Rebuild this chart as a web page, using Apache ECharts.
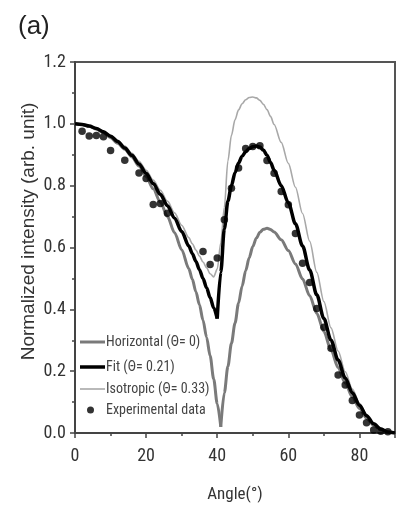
<!DOCTYPE html>
<html>
<head>
<meta charset="utf-8">
<script src="https://cdn.jsdelivr.net/npm/echarts@6/dist/echarts.min.js"></script>
<style>
html,body{margin:0;padding:0;background:#fff;}
#chart{width:402px;height:509px;}
</style>
</head>
<body>
<div id="chart"></div>
<script>
// ---- data ----
const curveAngles = [0,2,4,6,8,10,12,14,16,18,20,22,24,26,28,30,32,33,34,35,36,37,38,39,40,41,42,43,44,45,46,47,48,49,50,51,52,53,54,55,56,58,60,62,64,66,68,70,72,74,76,78,80,82,84,86,88,90];
const horizontal = [1.0,0.998,0.992,0.983,0.971,0.955,0.937,0.918,0.893,0.864,0.83,0.79,0.747,0.70,0.648,0.593,0.532,0.497,0.457,0.415,0.365,0.31,0.25,0.175,0.095,0.02,0.13,0.215,0.29,0.355,0.42,0.475,0.525,0.567,0.603,0.63,0.649,0.659,0.662,0.658,0.65,0.625,0.59,0.547,0.498,0.444,0.387,0.328,0.268,0.212,0.162,0.117,0.079,0.048,0.025,0.01,0.002,0];
const fit = [1.0,0.998,0.993,0.985,0.974,0.96,0.943,0.922,0.898,0.87,0.84,0.807,0.772,0.735,0.695,0.652,0.605,0.58,0.555,0.528,0.50,0.47,0.438,0.405,0.37,0.52,0.66,0.75,0.80,0.842,0.873,0.895,0.91,0.92,0.926,0.928,0.925,0.915,0.898,0.875,0.85,0.80,0.745,0.677,0.605,0.527,0.447,0.37,0.30,0.236,0.178,0.13,0.09,0.056,0.03,0.013,0.003,0];
const isotropic = [1.0,0.998,0.994,0.986,0.976,0.963,0.947,0.928,0.905,0.879,0.85,0.818,0.785,0.75,0.712,0.672,0.632,0.612,0.592,0.572,0.553,0.535,0.515,0.505,0.53,0.615,0.73,0.88,0.963,1.013,1.045,1.065,1.078,1.085,1.087,1.084,1.076,1.063,1.046,1.024,0.998,0.94,0.872,0.795,0.71,0.62,0.52,0.425,0.34,0.265,0.198,0.142,0.096,0.059,0.03,0.012,0.003,0];
const expAngles = [2,4,6,8,10,14,18,20,22,24,26,36,38,40,42,44,46,48,50,52,54,56,58,60,62,64,66,68,70,72,74,76,78,80,82,84,86,88];
const expValues = [0.976,0.961,0.962,0.958,0.914,0.882,0.841,0.823,0.739,0.742,0.711,0.587,0.545,0.566,0.69,0.792,0.857,0.92,0.927,0.929,0.881,0.84,0.781,0.738,0.645,0.549,0.487,0.403,0.342,0.274,0.188,0.155,0.105,0.058,0.033,0.01,0.006,0.004];
const seriesNames = ['Horizontal (\u0398= 0)','Fit (\u0398= 0.21)','Isotropic (\u0398= 0.33)','Experimental data'];
const cuspAngles = [41, 40];   // sharp minima of the horizontal and fit curves
const xTicks = [0,20,40,60,80];
const yTicks = [0.0,0.2,0.4,0.6,0.8,1.0,1.2];

function pairs(xs, ys){ return xs.map((x,i)=>[x, ys[i]]); }
function splitAt(xs, ys, cx){
  const k = xs.indexOf(cx);
  const p = pairs(xs, ys);
  return [p.slice(0, k+1), p.slice(k)];
}

const COND = "'Roboto Condensed','DejaVu Sans Condensed','Liberation Sans Narrow','Liberation Sans',Arial,sans-serif";
const AXFONT = "'Liberation Sans',Arial,sans-serif";

const lineColors = ['#7a7a7a','#000000','#a8a8a8'];
const lineWidths = [3,3.5,1.6];
const legendTops = [335,360,382];

function lineLegend(i){
  return {orient:'vertical', left:80, top:legendTops[i], padding:0, icon:'rect',
    itemWidth:25, itemHeight:lineWidths[i], data:[seriesNames[i]],
    textStyle:{fontSize:14, color:'#444', fontFamily:COND, padding:[0,0,0,-4]}};
}
function lineSeries(i, data, z){
  return {name:seriesNames[i], type:'line', data:data, symbol:'none', z:z,
    smooth:0.3, smoothMonotone:'x',
    lineStyle:{color:lineColors[i], width:lineWidths[i]}, itemStyle:{color:lineColors[i]}};
}

const hParts = splitAt(curveAngles, horizontal, cuspAngles[0]);
const fParts = splitAt(curveAngles, fit, cuspAngles[1]);

const chart = echarts.init(document.getElementById('chart'), null, {renderer:'canvas'});
chart.setOption({
  backgroundColor:'#fff',
  animation:false,
  title:{text:'(a)', left:13, top:9, textStyle:{fontSize:26, fontWeight:'normal', color:'#222', fontFamily:AXFONT}},
  grid:{left:75, right:7, top:62, bottom:76, show:true, borderColor:'#555', borderWidth:2, containLabel:false},
  xAxis:{
    type:'value', min:xTicks[0], max:90, interval:xTicks[1]-xTicks[0],
    axisLine:{lineStyle:{color:'#444', width:2}},
    axisTick:{show:true, length:5, lineStyle:{color:'#444', width:1.5}},
    minorTick:{show:true, splitNumber:2, length:3, lineStyle:{color:'#444', width:1.5}},
    axisLabel:{fontSize:18, color:'#333', margin:14, fontFamily:COND, showMaxLabel:false},
    splitLine:{show:false},
    name:'Angle(\u00B0)', nameLocation:'middle', nameGap:53, nameMoveOverlap:false,
    nameTextStyle:{fontSize:17, color:'#333', fontFamily:COND}
  },
  yAxis:{
    type:'value', min:yTicks[0], max:yTicks[yTicks.length-1], interval:yTicks[1]-yTicks[0],
    axisLine:{show:true, lineStyle:{color:'#444', width:2}},
    axisTick:{show:true, length:5, lineStyle:{color:'#444', width:1.5}},
    minorTick:{show:true, splitNumber:2, length:3, lineStyle:{color:'#444', width:1.5}},
    axisLabel:{fontSize:18, color:'#333', margin:9, fontFamily:COND, formatter:v=>v.toFixed(1)},
    splitLine:{show:false},
    name:'Normalized intensity (arb. unit)', nameLocation:'middle', nameGap:37, nameMoveOverlap:false,
    nameTextStyle:{fontSize:19, color:'#333', fontFamily:AXFONT, padding:[0,0,0,32]}
  },
  legend:[
    lineLegend(0), lineLegend(1), lineLegend(2),
    {orient:'vertical', left:87, top:403, padding:0, icon:'circle', itemWidth:7, itemHeight:7,
     data:[seriesNames[3]],
     textStyle:{fontSize:14, color:'#444', fontFamily:COND, padding:[0,0,0,7]}}
  ],
  series:[
    lineSeries(0, hParts[0], 2),
    lineSeries(0, hParts[1], 2),
    lineSeries(2, pairs(curveAngles, isotropic), 3),
    lineSeries(1, fParts[0], 4),
    lineSeries(1, fParts[1], 4),
    {name:seriesNames[3], type:'scatter', data:pairs(expAngles, expValues), symbol:'circle', symbolSize:7.5, z:5,
     itemStyle:{color:'#000'}}
  ]
});
</script>
</body>
</html>
